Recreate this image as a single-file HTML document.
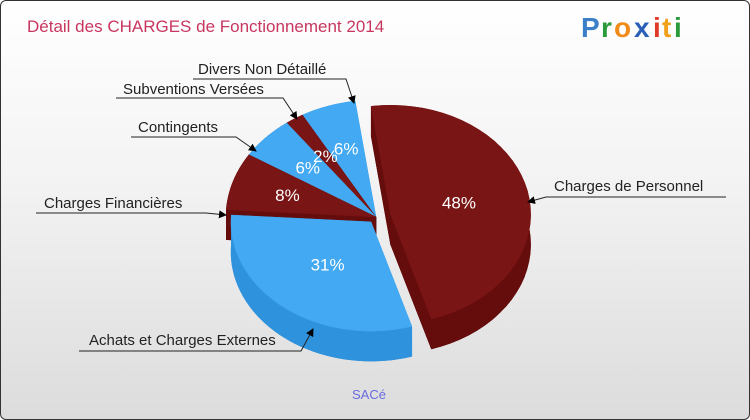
<!DOCTYPE html>
<html><head><meta charset="utf-8"><style>
html,body{margin:0;padding:0;}
body{width:750px;height:420px;overflow:hidden;font-family:"Liberation Sans","DejaVu Sans",sans-serif;}
#frame{position:absolute;left:0;top:0;width:748px;height:418px;border:1px solid #333;border-radius:6px;background:linear-gradient(#ffffff,#f4f4f4 40%,#dcdcdc);overflow:hidden;}
svg text{font-family:"Liberation Sans","DejaVu Sans",sans-serif;}
</style></head><body>
<div id="frame">
<svg id="chart" width="750" height="420">
<defs><marker id="arr" markerWidth="8" markerHeight="8" refX="7" refY="4" orient="auto" markerUnits="userSpaceOnUse"><path d="M0,0 L8,4 L0,8 z" fill="#000"/></marker></defs>
<text x="26" y="31" font-size="17" fill="#c8365f">Détail des CHARGES de Fonctionnement 2014</text>
<g font-size="28" font-weight="bold">
<text x="580" y="36" fill="#3a7fc8">P</text><text x="600" y="36" fill="#2a9a3a">r</text><text x="613" y="36" fill="#f08a1a">o</text><text x="633" y="36" fill="#2a5fb8">x</text><text x="652" y="36" fill="#e03a2a">i</text><text x="661" y="36" fill="#f0a01a">t</text><text x="673" y="36" fill="#2a9a3a">i</text>
</g>
<g id="pie"></g>
<g id="labels"></g>
<text x="368" y="398" font-size="13" fill="#6a6ae0" text-anchor="middle">SACé</text>
</svg>
</div>
<script>
const categories=["Charges de Personnel","Achats et Charges Externes","Charges Financières","Contingents","Subventions Versées","Divers Non Détaillé"];
const values=[48,31,8,6,2,6];
const pctLabels=["48%","31%","8%","6%","2%","6%"];
const NS="http://www.w3.org/2000/svg";
const cx=375,cy=216,k=0.78,depth=30,startDeg=-8;
const pal=[["#7a1515","#650c0c"],["#42a9f2","#2f92dc"]];
function radiusFor(i){return i<2?140:150;}
function explodeFor(i){return i===0?15:(i===1?8:0);}
function pt(c,r,deg){const a=deg*Math.PI/180;return [c[0]+r*Math.sin(a),c[1]-r*k*Math.cos(a)];}
const total=values.reduce((a,b)=>a+b,0);
const pie=document.getElementById('pie');
let ang=startDeg;const slices=[];
values.forEach((v,i)=>{const a0=ang,a1=ang+v/total*360;ang=a1;const mid=(a0+a1)/2;const e=explodeFor(i);
 const c=pt([cx,cy],e,mid);slices.push({i,a0,a1,mid,c,r:radiusFor(i)});});
function poly(pts,fill,name){const p=document.createElementNS(NS,'polygon');p.setAttribute('points',pts.map(q=>q[0].toFixed(1)+','+q[1].toFixed(1)).join(' '));p.setAttribute('fill',fill);p.setAttribute('stroke',fill);p.setAttribute('stroke-width','0.5');
 
 
 return p;}
const order=slices.slice().sort((a,b)=>-Math.cos(a.mid*Math.PI/180)+Math.cos(b.mid*Math.PI/180));
order.forEach(s=>{const col=pal[s.i%2];const g=document.createElementNS(NS,'g');
 
 
 const arc=[];const n=40;for(let j=0;j<=n;j++)arc.push(pt(s.c,s.r,s.a0+(s.a1-s.a0)*j/n));
 const down=q=>[q[0],q[1]+depth];
 g.appendChild(poly([s.c].concat(arc).map(down),col[1],'slice-bottom'));
 g.appendChild(poly([s.c,arc[0],down(arc[0]),down(s.c)],col[1],'slice-side'));
 g.appendChild(poly([s.c,arc[n],down(arc[n]),down(s.c)],col[1],'slice-side'));
 g.appendChild(poly(arc.concat(arc.slice().reverse().map(down)),col[1],'slice-wall'));
 g.appendChild(poly([s.c].concat(arc),col[0],'slice-top'));
 pie.appendChild(g);});
slices.forEach(s=>{const f=s.i<2?0.5:0.62;const p=pt(s.c,s.r*f,s.mid);const t=document.createElementNS(NS,'text');
 t.setAttribute('x',p[0]);t.setAttribute('y',p[1]+6);t.setAttribute('text-anchor','middle');t.setAttribute('font-size','17');t.setAttribute('fill','#fff');t.textContent=pctLabels[s.i];
 
 
 document.getElementById('labels').appendChild(t);});
const leaders=[[553,190,'start',725,545,196,527,201],[88,344,'start',78,300,350,312,328],[43,207,'start',35,205,212,225,214],[137,131,'start',130,235,136,255,150],[122,93,'start',115,282,97,296,118],[197,73,'start',192,345,78,353,102]];
const L=document.getElementById('labels');
leaders.forEach((d,i)=>{const t=document.createElementNS(NS,'text');t.setAttribute('x',d[0]);t.setAttribute('y',d[1]);t.setAttribute('font-size','15');t.setAttribute('fill','#222');t.textContent=categories[i];
 
 
 L.appendChild(t);
 const pl=document.createElementNS(NS,'polyline');pl.setAttribute('points',d[3]+','+d[5]+' '+d[4]+','+d[5]+' '+d[6]+','+d[7]);pl.setAttribute('fill','none');pl.setAttribute('stroke','#222');pl.setAttribute('stroke-width','1');pl.setAttribute('marker-end','url(#arr)');
 
 
 L.appendChild(pl);});
</script>
</body></html>
